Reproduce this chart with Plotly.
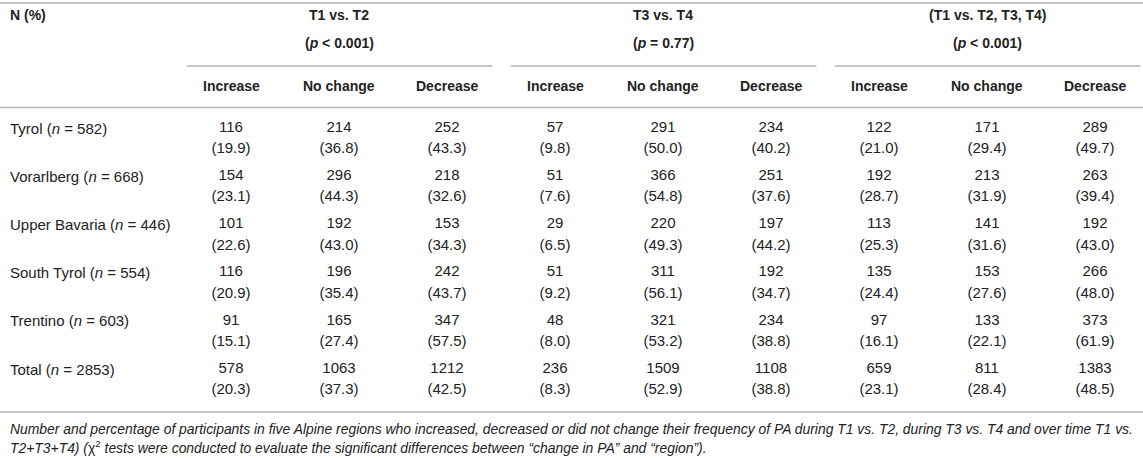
import plotly.graph_objects as go

# table content
regions = ["Tyrol", "Vorarlberg", "Upper Bavaria", "South Tyrol", "Trentino", "Total"]
region_n = [582, 668, 446, 554, 603, 2853]
groups = ["T1 vs. T2", "T3 vs. T4", "(T1 vs. T2, T3, T4)"]
group_p = ["< 0.001", "= 0.77", "< 0.001"]
changes = ["Increase", "No change", "Decrease"]

counts = [
    [116, 214, 252, 57, 291, 234, 122, 171, 289],
    [154, 296, 218, 51, 366, 251, 192, 213, 263],
    [101, 192, 153, 29, 220, 197, 113, 141, 192],
    [116, 196, 242, 51, 311, 192, 135, 153, 266],
    [91, 165, 347, 48, 321, 234, 97, 133, 373],
    [578, 1063, 1212, 236, 1509, 1108, 659, 811, 1383],
]
percents = [
    [19.9, 36.8, 43.3, 9.8, 50.0, 40.2, 21.0, 29.4, 49.7],
    [23.1, 44.3, 32.6, 7.6, 54.8, 37.6, 28.7, 31.9, 39.4],
    [22.6, 43.0, 34.3, 6.5, 49.3, 44.2, 25.3, 31.6, 43.0],
    [20.9, 35.4, 43.7, 9.2, 56.1, 34.7, 24.4, 27.6, 48.0],
    [15.1, 27.4, 57.5, 8.0, 53.2, 38.8, 16.1, 22.1, 61.9],
    [20.3, 37.3, 42.5, 8.3, 52.9, 38.8, 23.1, 28.4, 48.5],
]

W, H = 1143, 458
FONT = "Liberation Sans, Arial, sans-serif"
TXT = "#222222"
LINE = "#b4b4b4"

# layout (pixels)
col0, col_step = 231, 108
row0, row_step, pct_off = 128, 48.2, 21.5
label_x = 8

col_x = [col0 + i * col_step for i in range(9)]

xs, ys, texts = [], [], []
for r in range(len(regions)):
    y = row0 + r * row_step
    for c in range(9):
        xs += [col_x[c], col_x[c]]
        ys += [y, y + pct_off]
        texts += [str(counts[r][c]), "(%.1f)" % percents[r][c]]

fig = go.Figure(
    go.Scatter(
        x=xs, y=ys, text=texts, mode="text",
        textposition="middle center",
        textfont=dict(family=FONT, size=15, color=TXT),
        hoverinfo="skip", showlegend=False,
    )
)

ann = []


def add_text(x, y, text, size=15, anchor="center", bold=False, italic=False):
    if bold:
        text = "<b>" + text + "</b>"
    if italic:
        text = "<i>" + text + "</i>"
    ann.append(dict(x=x, y=y, xref="x", yref="y", text=text, showarrow=False,
                    xanchor=anchor, yanchor="middle",
                    font=dict(family=FONT, size=size, color=TXT)))


add_text(label_x, 15, "N (%)", size=14, anchor="left", bold=True)
for g in range(3):
    cx = col_x[g * 3 + 1]
    add_text(cx, 15, groups[g], size=14, bold=True)
    add_text(cx, 43, "(<i>p</i> %s)" % group_p[g], size=14, bold=True)
    for k in range(3):
        add_text(col_x[g * 3 + k], 86, changes[k], size=14, bold=True)

for r, name in enumerate(regions):
    add_text(label_x, row0 + r * row_step, "%s (<i>n</i> = %d)" % (name, region_n[r]), anchor="left")

foot1 = ("Number and percentage of participants in five Alpine regions who increased, decreased or did not "
         "change their frequency of PA during T1 vs. T2, during T3 vs. T4 and over time T1 vs.")
foot2a = "T2+T3+T4) ("
foot2b = (" tests were conducted to evaluate the significant differences between "
          "\u201cchange in PA\u201d and \u201cregion\u201d).")
add_text(label_x, 429, foot1, size=13.9, anchor="left", italic=True)
add_text(label_x, 447, "<i>" + foot2a + "</i>\u03c7<sup>2</sup><i>" + foot2b + "</i>",
         size=13.9, anchor="left")

shapes = []


def hline(x0, x1, y):
    shapes.append(dict(type="line", xref="x", yref="y", x0=x0, x1=x1, y0=y, y1=y,
                       line=dict(color=LINE, width=1.6)))


hline(0, W, 3)
for g in range(3):
    hline(col_x[g * 3] - 0.41 * col_step, col_x[g * 3 + 2] + 0.42 * col_step, 66)
hline(0, W, 107.5)
hline(0, W, 412)

fig.update_layout(
    width=W, height=H,
    margin=dict(l=0, r=0, t=0, b=0),
    paper_bgcolor="white", plot_bgcolor="white",
    xaxis=dict(range=[0, W], visible=False, fixedrange=True),
    yaxis=dict(range=[H, 0], visible=False, fixedrange=True),
    annotations=ann, shapes=shapes,
)

# drop the browser's default page margin so the table sits at the window edge
fig.write_html("out.html", config={"displayModeBar": False},
               post_script="document.body.style.margin='0px';")
